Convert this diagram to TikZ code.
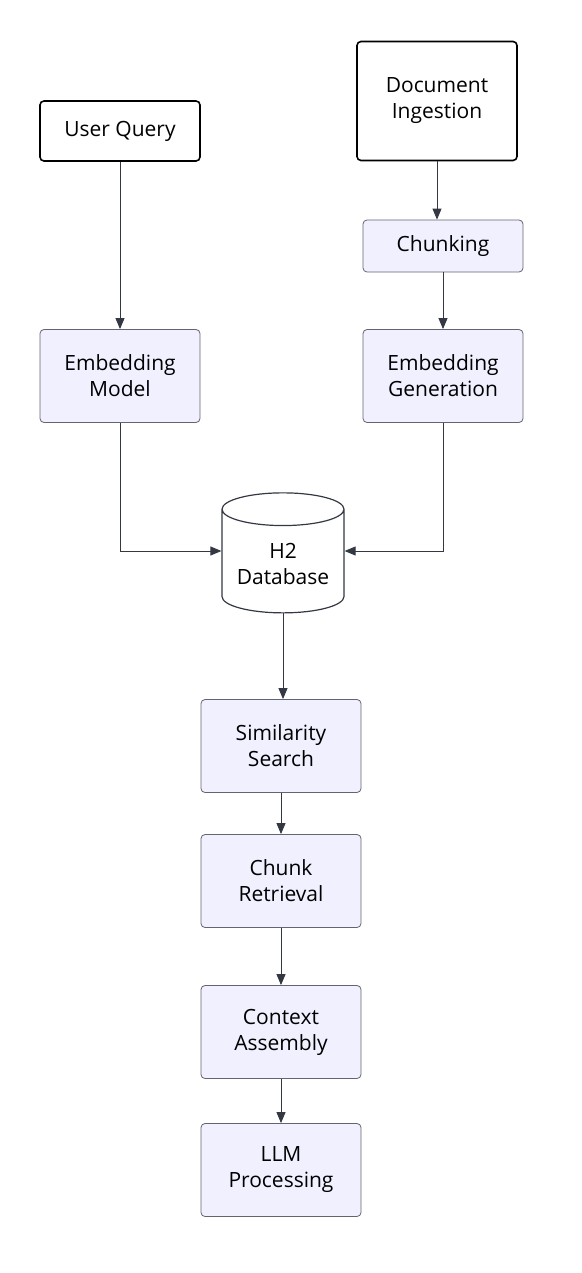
\documentclass[tikz,border=0pt]{standalone}
\usepackage{fontspec}
\setmainfont{Open Sans}
\usepackage{xcolor}
\usepackage{tikz}
\definecolor{boxfill}{RGB}{240, 240, 255}
\definecolor{boxline}{RGB}{100, 100, 112}
\definecolor{linkgray}{RGB}{51, 56, 66}
\usetikzlibrary{shapes,arrows.meta,positioning}

\begin{document}
\begin{tikzpicture}[
    x=1pt, y=-1pt,
    inputbox/.style={
        rectangle,
        rounded corners=4pt,
        minimum width=160pt,
        align=center,
        font=\fontsize{21}{26}\selectfont,
        fill=white,
        draw=black,
        line width=1.6pt
    },
    stage/.style={
        rectangle,
        rounded corners=4pt,
        minimum width=160pt,
        minimum height=93pt,
        align=center,
        font=\fontsize{21}{26}\selectfont,
        fill=boxfill,
        draw=boxline,
        line width=0.8pt
    },
    store/.style={
        cylinder,
        shape border rotate=90,
        aspect=0.33,
        minimum width=122pt,
        minimum height=120pt,
        align=center,
        font=\fontsize{21}{26}\selectfont,
        fill=white,
        draw=linkgray,
        line width=1.2pt
    },
    link/.style={
        draw=linkgray,
        line width=0.9pt,
        -{Triangle[length=11pt,width=9pt]}
    }
]
    \useasboundingbox (0,0) rectangle (581,1273);

    % Inputs
    \node[inputbox, minimum height=60pt] (query) at (120,131) {User Query};
    \node[inputbox, minimum height=119pt] (ingest) at (437,101) {Document\\Ingestion};

    % Indexing side
    \node[stage, minimum height=52pt] (chunk) at (443,246) {Chunking};
    \node[stage] (embgen) at (443,376) {Embedding\\Generation};

    % Query side
    \node[stage] (embmodel) at (120,376) {Embedding\\Model};

    % Store
    \node[store] (h2) at (283,564) {H2\\Database};

    % Retrieval chain
    \node[stage] (search) at (281,746) {Similarity\\Search};
    \node[stage] (retrieve) at (281,881) {Chunk\\Retrieval};
    \node[stage] (assemble) at (281,1032) {Context\\Assembly};
    \node[stage] (llm) at (281,1170) {LLM\\Processing};

    % Links
    \draw[link] (query) -- (embmodel);
    \draw[link] (ingest) -- (ingest |- chunk.north);
    \draw[link] (chunk) -- (embgen);
    \draw[link] (embmodel.south) |- (h2.west |- 0,551);
    \draw[link] (embgen.south) |- (h2.east |- 0,551);
    \draw[link] (h2.south) -- (h2.south |- search.north);
    \draw[link] (search) -- (retrieve);
    \draw[link] (retrieve) -- (assemble);
    \draw[link] (assemble) -- (llm);
\end{tikzpicture}
\end{document}
